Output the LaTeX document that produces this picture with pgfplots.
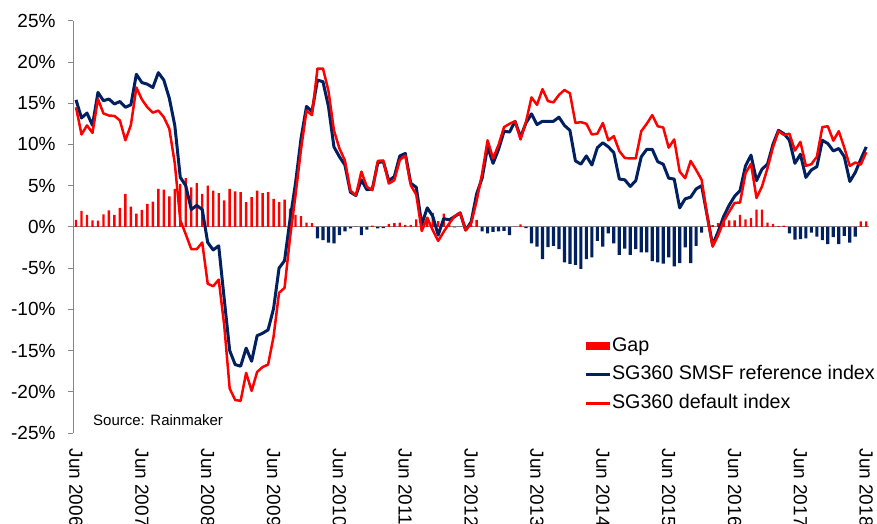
\documentclass[border=0pt]{standalone}
\usepackage{fontspec}
\setmainfont{Liberation Sans}
\usepackage{pgfplots}
\usepackage{pgfplotstable}
\pgfplotsset{compat=1.18}
\definecolor{RefNavy}{HTML}{002060}
\definecolor{DefRed}{HTML}{FF0000}
\definecolor{AxGray}{HTML}{868686}

% monthly, Jun 2006 = 0 ... Jun 2018 = 144; gap = reference - default
\pgfplotstableread{
i ref def gap
0 15.4 14.5 0.85
1 13.2 11.2 1.95
2 13.8 12.3 1.45
3 12.3 11.4 0.8
4 16.3 15.5 0.75
5 15.3 13.75 1.5
6 15.5 13.5 2.0
7 14.9 13.45 1.45
8 15.2 12.9 2.3
9 14.5 10.5 4.0
10 14.8 12.35 2.45
11 18.5 16.9 1.6
12 17.5 15.45 2.05
13 17.3 14.5 2.8
14 16.9 13.85 3.05
15 18.7 14.1 4.6
16 17.8 13.3 4.5
17 15.6 11.9 3.7
18 12.3 7.7 4.6
19 6.0 0.8 5.2
20 5.0 -0.9 5.9
21 2.1 -2.7 4.8
22 2.6 -2.7 5.3
23 2.1 -1.9 4.0
24 -1.9 -6.9 5.0
25 -2.8 -7.2 4.4
26 -2.3 -6.4 4.1
27 -8.7 -11.9 3.2
28 -15.0 -19.6 4.6
29 -16.7 -21.0 4.3
30 -16.9 -21.1 4.2
31 -14.7 -17.7 3.0
32 -16.3 -19.9 3.6
33 -13.2 -17.6 4.4
34 -12.9 -17.0 4.1
35 -12.5 -16.7 4.2
36 -9.9 -13.3 3.4
37 -5.0 -8.0 3.0
38 -4.1 -7.4 3.3
39 0.9 -1.3 2.2
40 5.3 3.85 1.45
41 10.7 9.4 1.3
42 14.6 14.1 0.5
43 14.0 13.55 0.45
44 17.8 19.2 -1.4
45 17.6 19.2 -1.6
46 14.6 16.5 -1.9
47 9.7 11.7 -2.0
48 8.5 9.5 -1.0
49 7.5 8.05 -0.55
50 4.2 4.4 -0.2
51 3.8 3.8 0
52 5.7 6.7 -1.0
53 4.5 4.85 -0.35
54 4.6 4.45 0.15
55 7.8 8.0 -0.2
56 7.9 8.05 -0.15
57 5.6 5.25 0.35
58 6.1 5.65 0.45
59 8.6 8.1 0.5
60 8.9 8.65 0.25
61 5.3 5.05 0.25
62 4.8 3.9 0.9
63 0.3 -0.5 0.8
64 2.3 1.1 1.2
65 1.3 -0.4 1.7
66 -1.0 -1.7 0.7
67 1.0 -0.6 1.6
68 0.85 0.4 0.45
69 1.25 1.3 -0.05
70 1.7 1.7 0
71 -0.4 -0.4 0
72 0.6 0.4 0.2
73 4.0 3.15 0.85
74 5.9 6.45 -0.55
75 9.7 10.5 -0.8
76 7.7 8.3 -0.6
77 9.4 9.95 -0.55
78 11.6 12.1 -0.5
79 11.5 12.5 -1.0
80 12.8 12.8 0
81 10.9 10.6 0.3
82 12.6 12.75 -0.15
83 13.7 15.7 -2.0
84 12.4 14.8 -2.4
85 12.8 16.7 -3.9
86 12.8 15.25 -2.45
87 12.8 15.1 -2.3
88 13.3 16.0 -2.7
89 12.3 16.6 -4.3
90 11.7 16.2 -4.5
91 8.0 12.6 -4.6
92 7.6 12.7 -5.1
93 8.6 12.5 -3.9
94 7.5 11.2 -3.7
95 9.6 11.3 -1.7
96 10.2 12.6 -2.4
97 9.7 10.5 -0.8
98 9.0 11.0 -2.0
99 5.8 9.2 -3.4
100 5.7 8.35 -2.65
101 4.9 8.3 -3.4
102 5.6 8.3 -2.7
103 8.5 11.6 -3.1
104 9.4 12.5 -3.1
105 9.4 13.55 -4.15
106 7.9 12.2 -4.3
107 7.6 12.05 -4.45
108 5.9 9.6 -3.7
109 5.8 10.6 -4.8
110 2.3 6.7 -4.4
111 3.4 5.9 -2.5
112 3.6 8.0 -4.4
113 4.6 6.9 -2.3
114 5.0 5.7 -0.7
115 1.4 1.4 0
116 -2.2 -2.4 0.2
117 -0.6 -1.05 0.45
118 1.25 0.65 0.6
119 2.6 1.8 0.8
120 3.7 2.9 0.8
121 4.4 2.95 1.45
122 7.4 6.5 0.9
123 8.7 7.65 1.05
124 5.6 3.5 2.1
125 7.0 4.9 2.1
126 7.6 7.1 0.5
127 10.0 9.65 0.35
128 11.7 11.6 0.1
129 11.3 11.15 0.15
130 10.5 11.3 -0.8
131 7.7 9.25 -1.55
132 8.8 10.3 -1.5
133 6.0 7.4 -1.4
134 6.9 7.6 -0.7
135 7.3 8.5 -1.2
136 10.5 12.1 -1.6
137 10.1 12.2 -2.1
138 9.2 10.45 -1.25
139 9.5 11.6 -2.1
140 8.5 9.6 -1.1
141 5.5 7.4 -1.9
142 6.6 7.8 -1.2
143 8.2 7.55 0.65
144 9.7 9.05 0.65
}\sgdata

\newcommand{\lblfont}{\fontsize{19bp}{22bp}\selectfont}

\begin{document}
\begin{tikzpicture}
\begin{axis}[
  at={(0,0)}, anchor=south west,
  scale only axis, width=796bp, height=412.3bp,
  xmin=-0.55, xmax=144.5, ymin=-25, ymax=25,
  axis y line*=left, axis x line*=bottom,
  x axis line style={draw=none},
  y axis line style={AxGray, line width=0.8bp},
  tick align=outside, major tick length=5bp,
  ytick={-25,-20,...,25},
  yticklabel={\pgfmathprintnumber[assume math mode=true]{\tick}\%},
  yticklabel shift=9bp,
  ytick style={AxGray, line width=0.8bp},
  xtick={0,12,...,144},
  xticklabels={Jun 2006,Jun 2007,Jun 2008,Jun 2009,Jun 2010,Jun 2011,Jun 2012,Jun 2013,Jun 2014,Jun 2015,Jun 2016,Jun 2017,Jun 2018},
  xtick style={draw=none},
  xticklabel style={rotate=-90, anchor=west},
  xticklabel shift=7bp,
  tick label style={font=\lblfont, text=black},
  legend cell align=left,
  legend style={at={(0.6420,0.2350)}, anchor=north west, draw=none, fill=none,
    font=\fontsize{19.7bp}{22bp}\selectfont, inner sep=0pt, row sep=9bp,
    nodes={inner sep=0.8bp, text height=14bp, text depth=4bp}},
]
\addplot[AxGray, line width=0.8bp, forget plot] coordinates {(-0.55,0) (144.5,0)};
\addplot[ybar, bar width=2.4bp, bar shift=0pt, fill=DefRed, draw=none,
  restrict y to domain=0:50,
  legend image code/.code={\fill[DefRed] (0bp,-4bp) rectangle (24bp,4bp);}]
  table[x=i, y=gap]{\sgdata};
\addlegendentry{Gap}
\addplot[ybar, bar width=3.2bp, bar shift=0pt, fill=RefNavy, draw=none,
  restrict y to domain=-50:0, forget plot]
  table[x=i, y=gap]{\sgdata};
\addplot[RefNavy, line width=3bp, line join=round, mark=none,
  legend image code/.code={\draw[RefNavy, line width=3bp] (0bp,0bp) -- (24bp,0bp);}]
  table[x=i, y=ref]{\sgdata};
\addlegendentry{SG360 SMSF reference index}
\addplot[DefRed, line width=2.5bp, line join=round, mark=none,
  legend image code/.code={\draw[DefRed, line width=2.5bp] (0bp,0bp) -- (24bp,0bp);}]
  table[x=i, y=def]{\sgdata};
\addlegendentry{SG360 default index}
\end{axis}
\node[anchor=west, inner sep=0pt, font=\fontsize{15bp}{17bp}\selectfont] at (20bp,13bp) {Source: Rainmaker};
\pgfresetboundingbox
\path[use as bounding box] (-73bp,-91bp) rectangle (804bp,433bp);
\end{tikzpicture}
\end{document}
